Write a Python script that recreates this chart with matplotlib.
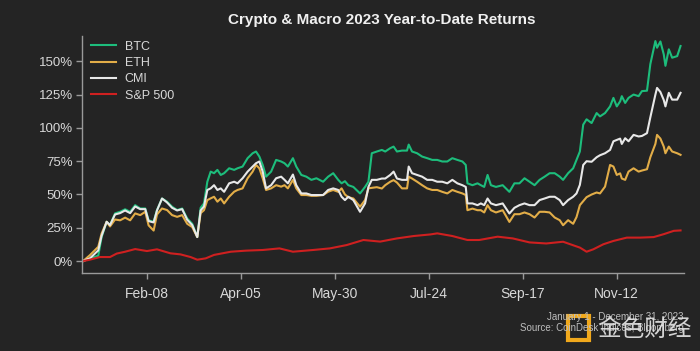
import matplotlib
matplotlib.use("Agg")
import matplotlib.pyplot as plt
from matplotlib.patches import Rectangle

plt.rcParams['font.family'] = ['Liberation Sans', 'DejaVu Sans']

# ---------------- data ----------------
# days since Jan 1 (chart's own evenly spaced calendar)
crypto_days = [0, 4, 9, 11, 14, 16, 19, 22, 25, 28, 31, 34, 37, 39, 42, 44, 47, 50, 53, 56,
               59, 62, 65, 68, 70, 72, 74, 76, 78, 80, 82, 84, 87, 90, 92, 95, 98, 101, 103, 105,
               107, 109, 112, 115, 118, 120, 122, 125, 127, 130, 133, 136, 139, 143, 146, 149, 152, 154, 156, 158,
               161, 165, 168, 170, 172, 175, 178, 180, 183, 185, 187, 190, 193, 194, 196, 199, 202, 205, 208, 211,
               214, 217, 220, 223, 226, 228, 229, 232, 235, 237, 239, 241, 243, 246, 250, 254, 257, 260, 263, 266,
               269, 272, 275, 278, 281, 284, 286, 289, 292, 294, 296, 298, 300, 303, 306, 308, 311, 314, 316, 318,
               320, 321, 323, 325, 328, 331, 333, 336, 338, 341, 342, 344, 346, 347, 349, 351, 354, 356]

btc = [0, 1.9, 4, 18, 29.5, 27, 35.8, 37, 38.9, 37, 42, 39.5, 39.5, 30.6, 29.5, 38.3, 47, 44.6, 40.8, 38.3,
       39.5, 32, 28, 18, 40, 43.3, 59.6, 67.2, 66, 68.5, 64.7, 66, 69.7, 68.5, 69.7, 71, 77.3, 81, 82.3, 78.5,
       72.2, 63.4, 67.2, 76, 74.8, 73.5, 71, 77.3, 71, 64.7, 63.4, 61, 62.2, 59.6, 63.4, 66, 61, 58.4, 60, 57,
       55.7, 50.8, 55.7, 59.6, 81, 82.3, 83.5, 82.3, 84.8, 86, 82.3, 83, 83, 87.5, 82.3, 81, 78.5, 77.3, 76, 76,
       74.8, 74.8, 77.3, 76, 74.8, 72.2, 58.4, 57, 58.4, 57, 55.7, 64.7, 57, 55.7, 57, 52, 58.4, 58.4, 62.2, 59.6,
       57, 61, 63.4, 66, 66, 63.4, 61, 66, 69.7, 76, 82.3, 102.5, 106.5, 103.7, 111.2, 108.7, 111.2, 116.2, 122.6, 116.2,
       120, 123.9, 118.8, 122.6, 125.1, 123.9, 127.7, 128, 148, 165.3, 160.3, 165, 155.3, 146.7, 159.1, 152.8, 154, 161.6]

cmi = [0, 2, 8, 19, 29.5, 27, 35, 36, 38, 36, 41, 39, 39, 30, 29, 38, 47, 44, 40, 38,
       39, 31, 27, 18, 38, 41, 53.4, 54.6, 57, 53.4, 54.6, 52, 58.4, 59.6, 58.4, 62.2, 67.2, 71, 73.5, 74.8,
       67.2, 54.6, 57, 62.2, 63.4, 61, 58.4, 65, 57, 50.8, 50.8, 49.6, 49.6, 49.6, 53.4, 54.6, 53.4, 48.3, 45.8, 48.3,
       45.8, 37, 43.3, 55.7, 61, 61, 62, 62, 64.7, 67.2, 62, 61, 61, 71, 66, 64.7, 63.4, 61, 61, 59.6,
       59.6, 58.4, 61, 58.4, 57, 55.7, 43.3, 43.3, 42, 43.3, 42, 47, 43.3, 42, 43.3, 35.7, 40, 42, 43.3, 42,
       42, 45.8, 47, 48.3, 48.3, 45.8, 42, 45.8, 48.3, 50.8, 57.2, 72.2, 75, 74.6, 78, 79.5, 81, 83.5, 90, 91,
       92, 88, 92.3, 90, 94.8, 93.6, 94, 96.1, 108, 125, 130.1, 127, 121, 116.2, 126.4, 121.3, 121.3, 126.4]

eth = [0, 4.4, 10.7, 20.7, 29.5, 26, 31.2, 30.6, 32.6, 30.6, 35.8, 34.5, 37, 26.8, 22.9, 35, 39.5, 38.3, 34.5, 33.2,
       34.5, 28, 25.5, 18, 36, 38.2, 45.8, 47.1, 48.3, 44.6, 47, 43.3, 48.3, 52.1, 53.4, 54.6, 62.2, 67.2, 72.2, 69.7,
       62.2, 53.4, 54.6, 57, 55.9, 57, 54.6, 61, 54.6, 49.6, 49.6, 49, 49, 49.6, 52.1, 53.4, 52, 54.6, 50, 48,
       47, 40.8, 45.8, 54.6, 55, 55.5, 54.5, 57, 59.6, 60.8, 59, 54.6, 54.6, 63.4, 62, 59.6, 57, 54.6, 53.4, 53.4,
       52, 50.8, 53.4, 52, 50.8, 49.6, 38.2, 39.4, 38.2, 38.2, 36.5, 42, 38.2, 36.5, 38.2, 29.4, 35.2, 35.2, 36.5, 35.2,
       32.7, 37, 37, 36.5, 32.7, 30.7, 26.9, 30.7, 28, 33, 42, 45, 48, 50, 51.5, 50.8, 55.9, 72.2, 71, 64.7,
       65.9, 62, 61, 67.2, 69.7, 67.2, 68, 69, 78, 88, 94.8, 92, 86, 81, 86, 82.3, 81, 79.8]

spx_days = [0, 4, 10, 16, 20, 25, 31, 38, 44, 52, 58, 64, 68, 73, 78, 88, 97, 107, 117, 125,
            137, 147, 157, 167, 177, 187, 197, 207, 211, 220, 229, 236, 247, 256, 266, 276, 286, 296, 300, 304,
            310, 316, 324, 332, 340, 346, 352, 356]
spx = [0, 1, 3, 3, 5.6, 7, 9, 7.5, 8.8, 5.8, 5, 3, 1, 2, 4.6, 7, 7.8, 8.3, 9.5, 7,
       8.3, 9.5, 12, 15.8, 14.6, 17, 18.8, 20, 20.8, 18.8, 15.8, 15.8, 18.3, 17, 14, 13.2, 14.5, 10.1, 7, 8.8,
       12.6, 15.1, 17.6, 17.6, 18, 20.2, 22.7, 23]

tick_days = [38, 94, 150, 206, 262, 318]
tick_labels = ["Feb-08", "Apr-05", "May-30", "Jul-24", "Sep-17", "Nov-12"]
y_ticks = [0, 25, 50, 75, 100, 125, 150]

series = [("BTC", crypto_days, btc, "#1dbd7c"),
          ("ETH", crypto_days, eth, "#e2ad48"),
          ("CMI", crypto_days, cmi, "#e8e8e8"),
          ("S&P 500", spx_days, spx, "#cf2020")]

# ---------------- figure ----------------
BG = "#242424"
TXT = "#d8d8d8"
fig = plt.figure(figsize=(7.0, 3.51), dpi=100, facecolor=BG)
ax = fig.add_axes([0.1176, 0.2222, 0.977 - 0.1176, 0.897 - 0.2222])
ax.set_facecolor(BG)

for name, xs, ys, col in series:
    ax.plot(xs, ys, color=col, lw=1.5, label=name, solid_joinstyle="round")

ax.set_xlim(-0.5, 358)
ax.set_ylim(-9, 169)
ax.set_xticks(tick_days)
ax.set_xticklabels(tick_labels)
ax.set_yticks(y_ticks)
ax.set_yticklabels([f"{v}%" for v in y_ticks])

for s in ["top", "right"]:
    ax.spines[s].set_visible(False)
for s in ["left", "bottom"]:
    ax.spines[s].set_color("#9a9a9a")
    ax.spines[s].set_linewidth(1.0)
ax.tick_params(axis="both", colors="#9a9a9a", length=4, width=1, direction="out")
ax.tick_params(axis="x", labelcolor=TXT, labelsize=10, pad=6)
ax.tick_params(axis="y", labelcolor=TXT, labelsize=9.5, pad=3)

leg = ax.legend(loc="upper left", bbox_to_anchor=(0.0, 1.018), frameon=False,
                fontsize=9, handlelength=2.0, handletextpad=0.7, labelspacing=0.35,
                borderaxespad=0.3)
for t in leg.get_texts():
    t.set_color(TXT)

fig.text(0.546, 0.942, "Crypto & Macro 2023 Year-to-Date Returns", ha="center", va="center",
         color="#f0f0f0", fontsize=11, fontweight="bold")

fig.text(0.977, 0.098, "January 1 - December 31, 2023", ha="right", va="center",
         color="#bdbdbd", fontsize=7)
fig.text(0.977, 0.066, "Source: CoinDesk Indices, Bloomberg", ha="right", va="center",
         color="#bdbdbd", fontsize=7)

# watermark
fig.patches.append(Rectangle((0.812, 0.03), 0.03, 0.07, transform=fig.transFigure,
                             facecolor="none", edgecolor="#f0a81c", lw=3))
fig.text(0.853, 0.062, "金色财经", ha="left", va="center", color="#e6e6e6", alpha=0.9,
         fontsize=17, family=["Noto Sans CJK SC", "DejaVu Sans"])

fig.savefig("out.png", dpi=100, facecolor=BG)
